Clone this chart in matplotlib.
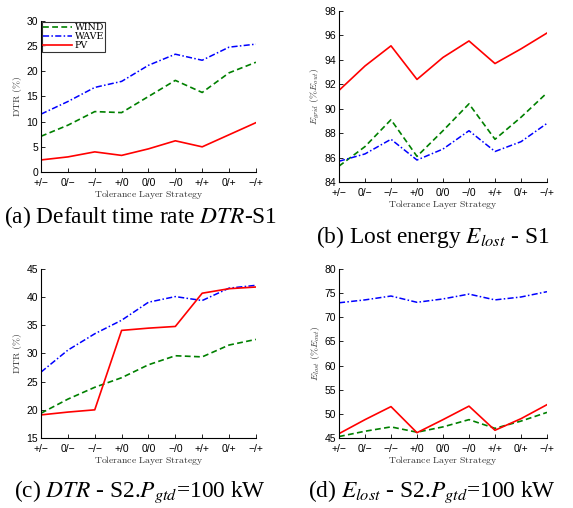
import matplotlib
matplotlib.use("Agg")
import matplotlib.pyplot as plt

strategies = ["+/\u2212", "0/\u2212", "\u2212/\u2212", "+/0", "0/0", "\u2212/0", "+/+", "0/+", "\u2212/+"]

# (a) DTR - S1
a_wind = [7.1, 9.3, 12.0, 11.8, 15.0, 18.2, 15.8, 19.7, 21.8]
a_wave = [11.5, 14.0, 16.8, 18.0, 21.2, 23.4, 22.2, 24.8, 25.4]
a_pv = [2.4, 3.0, 4.0, 3.3, 4.6, 6.2, 5.0, 7.4, 9.8]

# (b) E_grid - S1
b_wind = [85.3, 86.9, 89.1, 86.1, 88.2, 90.4, 87.5, 89.3, 91.3]
b_wave = [85.7, 86.3, 87.5, 85.8, 86.7, 88.2, 86.5, 87.3, 88.8]
b_pv = [91.5, 93.5, 95.15, 92.4, 94.2, 95.55, 93.7, 94.9, 96.2]

# (c) DTR - S2
c_wind = [19.4, 21.9, 24.0, 25.7, 28.0, 29.6, 29.4, 31.5, 32.5]
c_wave = [26.7, 30.6, 33.5, 35.9, 39.1, 40.1, 39.4, 41.6, 42.1]
c_pv = [19.1, 19.6, 20.0, 34.1, 34.5, 34.8, 40.7, 41.5, 41.8]

# (d) E_lost - S2
d_wind = [45.3, 46.4, 47.3, 46.2, 47.3, 48.8, 47.0, 48.5, 50.3]
d_wave = [73.0, 73.6, 74.4, 73.1, 73.8, 74.8, 73.6, 74.2, 75.3]
d_pv = [45.9, 48.8, 51.5, 46.1, 48.8, 51.6, 46.6, 49.0, 51.9]

fig = plt.figure(figsize=(5.73, 5.08), dpi=100)

GREEN = "#008000"
BLUE = "#0000ff"
RED = "#ff0000"
TICKFONT = "Liberation Sans"
SERIF = "Liberation Serif"

def setup(ax, ylim, yticks, ylabel):
    x = list(range(len(strategies)))
    ax.set_xlim(0, len(strategies) - 1)
    ax.set_ylim(*ylim)
    ax.set_yticks(yticks)
    ax.set_xticks(x)
    ax.set_xticklabels(strategies)
    for s in ["top", "right"]:
        ax.spines[s].set_visible(False)
    for s in ["left", "bottom"]:
        ax.spines[s].set_linewidth(0.8)
    ax.tick_params(direction="in", length=3, width=0.6, labelsize=7.5)
    ax.tick_params(axis="x", pad=4)
    ax.tick_params(axis="y", pad=2)
    for lab in ax.get_xticklabels() + ax.get_yticklabels():
        lab.set_fontfamily(TICKFONT)
    ax.set_xlabel(r"$\mathrm{Tolerance\ Layer\ Strategy}$", fontsize=7,
                  color="#333333", labelpad=0.0, math_fontfamily="cm")
    ax.set_ylabel(ylabel, fontsize=7, color="#333333", labelpad=2, math_fontfamily="cm")
    return x

def draw(ax, wind, wave, pv):
    x = list(range(len(strategies)))
    ax.plot(x, wind, color=GREEN, ls=(0, (3.5, 2.0)), lw=1.2, label="WIND")
    ax.plot(x, wave, color=BLUE, ls=(0, (4, 1.5, 1, 1.5)), lw=1.1, label="WAVE")
    ax.plot(x, pv, color=RED, ls="-", lw=1.2, label="PV")

axA = fig.add_axes([0.0716, 0.6614, 0.375, 0.2973])
setup(axA, (0, 30), range(0, 31, 5), r"$\mathrm{DTR\ (\%)}$")
draw(axA, a_wind, a_wave, a_pv)
leg = axA.legend(loc="upper left", frameon=True, fancybox=False,
                 borderpad=0.15, labelspacing=0.0, handlelength=3.0, handletextpad=0.3,
                 borderaxespad=0.1, prop={"family": "DejaVu Serif", "size": 6.8})
leg.get_frame().set_edgecolor("black")
leg.get_frame().set_linewidth(0.8)

axB = fig.add_axes([0.5916, 0.6417, 0.363, 0.3366])
setup(axB, (84, 98), range(84, 99, 2), r"$E_{grid}\ (\%E_{out})$")
draw(axB, b_wind, b_wave, b_pv)

axC = fig.add_axes([0.0716, 0.1378, 0.375, 0.3327])
setup(axC, (15, 45), range(15, 46, 5), r"$\mathrm{DTR\ (\%)}$")
draw(axC, c_wind, c_wave, c_pv)

axD = fig.add_axes([0.5916, 0.1378, 0.363, 0.3327])
setup(axD, (45, 80), range(45, 81, 5), r"$E_{lost}\ (\%E_{out})$")
draw(axD, d_wind, d_wave, d_pv)

cap_kw = dict(fontsize=16.8, family=SERIF, ha="center", va="center", math_fontfamily="stix")
fig.text(141 / 573, 1 - 217 / 508, r"(a) Default time rate $DTR$-S1", **cap_kw)
fig.text(433 / 573, 1 - 237 / 508, r"(b) Lost energy $E_{lost}$ - S1", **cap_kw)
fig.text(140 / 573, 1 - 492 / 508, r"(c) $DTR$ - S2.$P_{gtd}$=100 kW", **cap_kw)
fig.text(432 / 573, 1 - 492 / 508, r"(d) $E_{lost}$ - S2.$P_{gtd}$=100 kW", **cap_kw)

fig.savefig("out.png", dpi=100)
